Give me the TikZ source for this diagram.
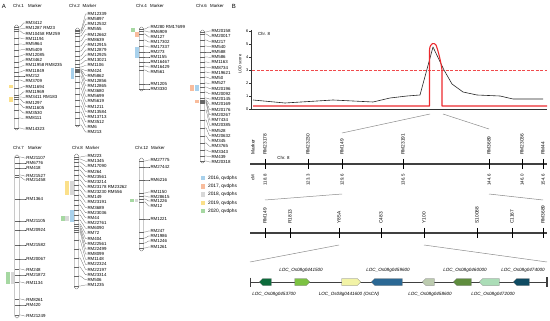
\documentclass[tikz,border=0pt]{standalone}
\usepackage{fontspec}
\setmainfont{Liberation Sans}
\usepackage{tikz}
\usetikzlibrary{shapes.arrows,positioning}

\definecolor{q16}{HTML}{A8D1EC}
\definecolor{q17}{HTML}{F8BC9C}
\definecolor{q18}{HTML}{D8D8D8}
\definecolor{q19}{HTML}{FBE08A}
\definecolor{q20}{HTML}{A6D8A2}
\definecolor{lodred}{HTML}{EC2A2E}
\definecolor{thrred}{HTML}{F04A4C}
\definecolor{ga}{HTML}{0C6B3B}
\definecolor{gb}{HTML}{7CC242}
\definecolor{gc}{HTML}{F2F3A6}
\definecolor{gd}{HTML}{2B6894}
\definecolor{ge}{HTML}{BCCBAF}
\definecolor{gf}{HTML}{5F8D3E}
\definecolor{gg}{HTML}{ABDDB7}
\definecolor{gh}{HTML}{0F4B62}

\begin{document}
\begin{tikzpicture}[x=1pt, y=-1pt,
    panel/.style={font=\fontsize{6}{7}\selectfont, inner sep=0pt},
    hdr/.style={font=\fontsize{4.4}{5}\selectfont, inner sep=0pt, anchor=west},
    mk/.style={font=\fontsize{4.4}{5}\selectfont, inner sep=0.3pt, anchor=west},
    chrom/.style={rectangle, draw=black!60, fill=white, line width=0.35pt, rounded corners=1.8pt, minimum width=4.5pt, inner sep=0pt},
    band/.style={black!60, line width=0.15pt},
    lnk/.style={black!70, line width=0.2pt},
    key/.style={rectangle, minimum size=4.5pt, inner sep=0pt},
    keytxt/.style={font=\fontsize{4.8}{5}\selectfont, inner sep=0pt},
    ax/.style={black!80, line width=0.4pt},
    tk/.style={font=\fontsize{4}{5}\selectfont, inner sep=0.3pt, anchor=east},
    lodk/.style={black!85, line width=0.6pt, line join=round},
    lodr/.style={lodred, line width=1.1pt, line join=round},
    thr/.style={thrred, line width=1pt, dash pattern=on 3pt off 1.5pt},
    zl/.style={black!45, line width=0.5pt},
    trk/.style={black!75, line width=1.1pt},
    tick/.style={black, line width=0.8pt},
    vlab/.style={font=\fontsize{4.8}{5}\selectfont, inner sep=0.3pt, rotate=90},
    vnum/.style={font=\fontsize{4.4}{5}\selectfont, inner sep=0.3pt, rotate=90},
    gtrk/.style={black!75, line width=0.6pt},
    gene/.style={single arrow, single arrow head extend=0pt, single arrow tip angle=90, draw=black!55, line width=0.3pt, minimum width=7pt, inner sep=0pt},
    glab/.style={font=\fontsize{4.6}{5}\selectfont\itshape, inner sep=0pt},
]
\useasboundingbox (0,0) rectangle (550,321);

% Chr.1
\node[panel] (labA) at (4,6) {A};
\node[hdr] (h1) at (13,6) {Chr.1};
\node[hdr, right=4pt of h1] (k1) {Marker};
\fill[q19] (9,85) rectangle (13,88.5);
\fill[q19] (9,97) rectangle (13,102);
\node[chrom, minimum height=105pt] (chr1) at (16.5,77.5) {};
\foreach \yc/\yl/\t [count=\i] in {27/23/RM3412, 29/28.3/RM1287 RM23, 31/33.6/RM10458 RM259, 38/38.9/RM11194, 44/44.2/RM5964, 50/49.5/RM5409, 56/54.8/RM12085, 62/60.1/RM3462, 67/65.4/RM11958 RM8235, 72/70.7/RM11849, 76/76/RM212, 80/81.3/RM3709, 88/86.6/RM11694, 95/91.9/RM11969, 97/97.2/RM3411 RM183, 99/102.5/RM1297, 104/107.8/RM11605, 110/113.1/RM3530, 118/118.4/RM8111, 128/129/RM14323} {
  \draw[band] (14.25,\yc) -- (18.75,\yc) coordinate (p1-\i);
  \node[mk] (m1-\i) at (25,\yl) {\t};
  \draw[lnk] (p1-\i) -- ++(1.5,0) -- (23.5,\yl) -- (m1-\i.west);
}

% Chr.2
\node[hdr] (h2) at (69,6) {Chr.2};
\node[hdr, right=2.5pt of h2] (k2) {Marker};
\fill[q16] (71,68) rectangle (74,79);
\node[chrom, minimum height=99pt] (chr2) at (77.5,77.5) {};
\foreach \yc/\yl/\t [count=\i] in {30/14/RM12339, 31/19.1/RM5897, 33/24.3/RM12532, 36/29.4/RM555, 41/34.5/RM12662, 46/39.7/RM8639, 51/44.8/RM12915, 56/50/RM12879, 60/55.1/RM12925, 64/60.2/RM13021, 67/65.4/RM1106, 69/70.5/RM424, 70/75.6/RM5862, 71/80.8/RM12856, 72/85.9/RM12865, 76/91/RM3680, 82/96.2/RM5699, 88/101.3/RM5619, 94/106.5/RM1211, 100/111.6/RM13584, 106/116.7/RM13713, 112/121.9/RM3512, 118/127/RM6, 125/132.1/RM213} {
  \draw[band] (75.25,\yc) -- (79.75,\yc) coordinate (p2-\i);
  \node[mk] (m2-\i) at (87,\yl) {\t};
  \draw[lnk] (p2-\i) -- ++(1.5,0) -- (85.5,\yl) -- (m2-\i.west);
}

% Chr.4
\node[hdr] (h4) at (136,6) {Chr.4};
\node[hdr, right=3pt of h4] (k4) {Marker};
\fill[q20] (131,28) rectangle (134.5,32);
\fill[q17] (135,32) rectangle (138.5,37);
\fill[q16] (135,47) rectangle (138.5,58);
\node[chrom, minimum height=64pt] (chr4) at (141.5,59) {};
\foreach \yc/\yl/\t [count=\i] in {29/27/RM280 RM17699, 31/32/RM6909, 34/37/RM127, 40/42/RM17302, 46/47/RM17337, 52/52/RM273, 57/57/RM1155, 62/62/RM16467, 66/67/RM16429, 70/72/RM561, 84/84/RM1205, 89/89/RM3330} {
  \draw[band] (139.25,\yc) -- (143.75,\yc) coordinate (p4-\i);
  \node[mk] (m4-\i) at (150,\yl) {\t};
  \draw[lnk] (p4-\i) -- ++(1.5,0) -- (148.5,\yl) -- (m4-\i.west);
}

% Chr.6
\node[hdr] (h6) at (196,6) {Chr.6};
\node[hdr, right=3pt of h6] (k6) {Marker};
\fill[q17] (190,85) rectangle (194,91);
\fill[q16] (195,85) rectangle (199,91);
\fill[q17] (195,100) rectangle (198.5,103);
\node[chrom, minimum height=133pt] (chr6) at (202.5,96.5) {};
\foreach \yc/\yl/\t [count=\i] in {32/31/RM20158, 34/36.2/RM20017, 40/41.5/RM217, 46/46.7/RM540, 52/52/RM588, 57/57.2/RM586, 62/62.4/RM1163, 67/67.7/RM8734, 72/72.9/RM19621, 77/78.2/RM50, 83/83.4/RM527, 87/88.6/RM20196, 92/93.9/RM20092, 98/99.1/RM20145, 100/104.4/RM20169, 101/109.6/RM20176, 102/114.8/RM20267, 103/120.1/RM7434, 110/125.3/RM20385, 120/130.6/RM528, 128/135.8/RM20632, 136/141/RM345, 143/146.3/RM3765, 150/151.5/RM3343, 156/156.8/RM439, 161/162/RM20318} {
  \draw[band] (200.25,\yc) -- (204.75,\yc) coordinate (p6-\i);
  \node[mk] (m6-\i) at (211,\yl) {\t};
  \draw[lnk] (p6-\i) -- ++(1.5,0) -- (209.5,\yl) -- (m6-\i.west);
}

% Chr.7
\node[hdr] (h7) at (13,148) {Chr.7};
\node[hdr, right=4pt of h7] (k7) {Marker};
\fill[q20] (6,272) rectangle (10,284);
\fill[q18] (11,272) rectangle (14,284);
\node[chrom, minimum height=163pt] (chr7) at (17,236.5) {};
\foreach \yc/\yl/\t [count=\i] in {157/158/RM21107, 163/163/RM6776, 168/168/RM418, 175/176/RM21527, 177/180/RM21458, 199/199/RM1364, 221/221/RM21105, 230/230/RM20924, 245/245/RM21582, 259/259/RM20067, 269/270/RM248, 275/275/RM21872, 282/283/RM1134, 299/300/RM8261, 305/305/RM420, 315/316/RM21249} {
  \draw[band] (14.75,\yc) -- (19.25,\yc) coordinate (p7-\i);
  \node[mk] (m7-\i) at (26,\yl) {\t};
  \draw[lnk] (p7-\i) -- ++(1.5,0) -- (24.5,\yl) -- (m7-\i.west);
}

% Chr.8
\node[hdr] (h8) at (72,148) {Chr.8};
\node[hdr, right=2.5pt of h8] (k8) {Marker};
\fill[q19] (65,181) rectangle (69,195);
\fill[q18] (70,181) rectangle (73.5,195);
\fill[q16] (70,210) rectangle (73.5,222);
\fill[q18] (65,216) rectangle (69,221);
\fill[q20] (60.5,216) rectangle (64.5,221);
\node[chrom, minimum height=135pt] (chr8) at (76.5,221.5) {};
\foreach \yc/\yl/\t [count=\i] in {157/156/RM223, 159/161.2/RM1345, 162/166.3/RM17090, 166/171.5/RM264, 170/176.6/RM23561, 175/181.8/RM23214, 180/187/RM23178 RM23262, 185/192.1/RM23230 RM556, 190/197.3/RM149, 195/202.4/RM23191, 200/207.6/RM3689, 205/212.8/RM23036, 210/217.9/RM44, 215/223.1/RM22761, 220/228.2/RM6090, 224/233.4/RM72, 226/238.6/RM404, 228/243.7/RM22561, 230/248.9/RM22499, 232/254/RM8099, 240/259.2/RM1148, 249/264.4/RM22324, 258/269.5/RM22197, 267/274.7/RM23314, 276/279.8/RM506, 286/285/RM1235} {
  \draw[band] (74.25,\yc) -- (78.75,\yc) coordinate (p8-\i);
  \node[mk] (m8-\i) at (87,\yl) {\t};
  \draw[lnk] (p8-\i) -- ++(1.5,0) -- (85.5,\yl) -- (m8-\i.west);
}

% Chr.12
\node[hdr] (h12) at (135,148) {Chr.12};
\node[hdr, right=2.5pt of h12] (k12) {Marker};
\fill[q20] (130,199) rectangle (134,202.5);
\fill[q18] (134.5,199) rectangle (138,202.5);
\node[chrom, minimum height=93pt] (chr12) at (141.5,204.5) {};
\foreach \yc/\yl/\t [count=\i] in {161/160/RM27775, 167/167/RM27442, 180/180/RM6216, 193/192/RM1150, 196/197/RM28615, 199/201/RM1226, 202/206/RM12, 219/219/RM1221, 232/231/RM247, 238/236/RM1986, 243/241/RM1246, 248/247/RM1261} {
  \draw[band] (139.25,\yc) -- (143.75,\yc) coordinate (p12-\i);
  \node[mk] (m12-\i) at (150,\yl) {\t};
  \draw[lnk] (p12-\i) -- ++(1.5,0) -- (148.5,\yl) -- (m12-\i.west);
}

% Legend
\foreach \c/\yr [count=\i] in {q16/2016, q17/2017, q18/2018, q19/2019, q20/2020} {
  \node[key, fill=\c] (key\i) at (203,169.7+8.3*\i) {};
  \node[keytxt, right=2.5pt of key\i] (kt\i) {\yr, qvdphs};
}

% LOD profile
\node[panel] (labB) at (234,6) {B};
\draw[ax] (251,30) -- (251,109) -- (547,109);
\foreach \v in {0,...,6} {
  \draw[ax] (251,109-13*\v) -- (249.3,109-13*\v);
  \node[tk] (yt\v) at (248.8,109-13*\v) {\v};
}
\node[tk, rotate=90, anchor=center] (ylab) at (240,64) {LOD score};
\node[mk] (c8a) at (257.5,34) {Chr. 8};
\draw[thr] (252,71) -- (547,71);
\draw[lodk] (253,100) -- (285,103) -- (333,100) -- (373,102) -- (390,98) -- (407,96) -- (420,95) -- (433,47) -- (444,70) -- (452,84) -- (463,92) -- (477,95) -- (500,96) -- (513,99) -- (543,99);
\draw[lodr] (253,106) -- (429.5,106) -- (429.5,50) .. controls (430,43) and (434,42) .. (436,45) .. controls (438,50) and (441,62) .. (442,70) -- (442,106) -- (547,106);

% Marker map
\coordinate (pk1) at (430,114);
\coordinate (pk2) at (443,114);
\coordinate (w1) at (342,133);
\coordinate (w2) at (489,129);
\draw[zl] (pk1) -- (w1);
\draw[zl] (pk2) -- (w2);
\draw[trk] (250,164) coordinate (a1) -- (547,164) coordinate (b1);
\node[vlab, anchor=west] (mkh) at (253,155) {Marker};
\node[vnum, anchor=east] (cmh) at (253,174) {cM};
\node[mk, anchor=center] (c8b) at (283.5,158) {Chr. 8};
\foreach \x/\m/\c [count=\i] in {265/RM23178/118.8, 308/RM23230/123.3, 342/RM149/129.6, 403/RM23191/136.5, 489/RM3689/144.6, 522/RM23036/146.0, 543/RM44/154.6} {
  \draw[tick] (\x,159) -- (\x,169.5);
  \node[vlab, anchor=west] (u\i) at (\x,155) {\m};
  \node[vnum, anchor=east] (cm\i) at (\x,174) {\c};
}

% Fine map
\coordinate (s1) at (342,194);
\coordinate (s2) at (489,194);
\coordinate (t1) at (265,200);
\coordinate (t2) at (543,200);
\draw[zl] (s1) -- (t1);
\draw[zl] (s2) -- (t2);
\draw[trk] (250,233) coordinate (a2) -- (547,233) coordinate (b2);
\foreach \x/\m [count=\i] in {265/RM149, 290/R1813, 339/Y85A, 381/C483, 424/Y100, 477/S10088, 512/C1167, 543/RM3689} {
  \draw[tick] (\x,228) -- (\x,238.5);
  \node[vlab, anchor=west] (v\i) at (\x,224) {\m};
}

% Genes
\coordinate (r1) at (339,245);
\coordinate (r2) at (424,245);
\coordinate (e1) at (250,262);
\coordinate (e2) at (547,262);
\draw[zl] (r1) -- (e1);
\draw[zl] (r2) -- (e2);
\draw[gtrk] (250,282) coordinate (gl) -- (547,282) coordinate (gr);
\draw[gtrk] (250,277.5) -- (250,286.5);
\draw[gtrk, line width=1.2pt] (547,277) -- (547,287);
\foreach \cx/\len/\dir/\col [count=\i] in {267/12pt/180/ga, 300.5/15pt/0/gb, 349.5/19pt/0/gc, 388.5/31pt/180/gd, 430/12pt/180/ge, 464/18pt/180/gf, 491/20pt/180/gg, 523/16pt/180/gh} {
  \node[gene, minimum height=\len, shape border rotate=\dir, fill=\col] (gn\i) at (\cx,282) {};
}
\foreach \cx/\yy/\t [count=\i] in {301/270/LOC\_Os08g0441500, 388/270/LOC\_Os08g0459600, 465/270/LOC\_Os08g0460000, 523/270/LOC\_Os08g0474000, 274/294/LOC\_Os08g0453700, 349/294/LOC\_Os08g0441600 (OsCN), 430/294/LOC\_Os08g0458600, 493/294/LOC\_Os08g0472000} {
  \node[glab] (gt\i) at (\cx,\yy) {\t};
}
\end{tikzpicture}
\end{document}
